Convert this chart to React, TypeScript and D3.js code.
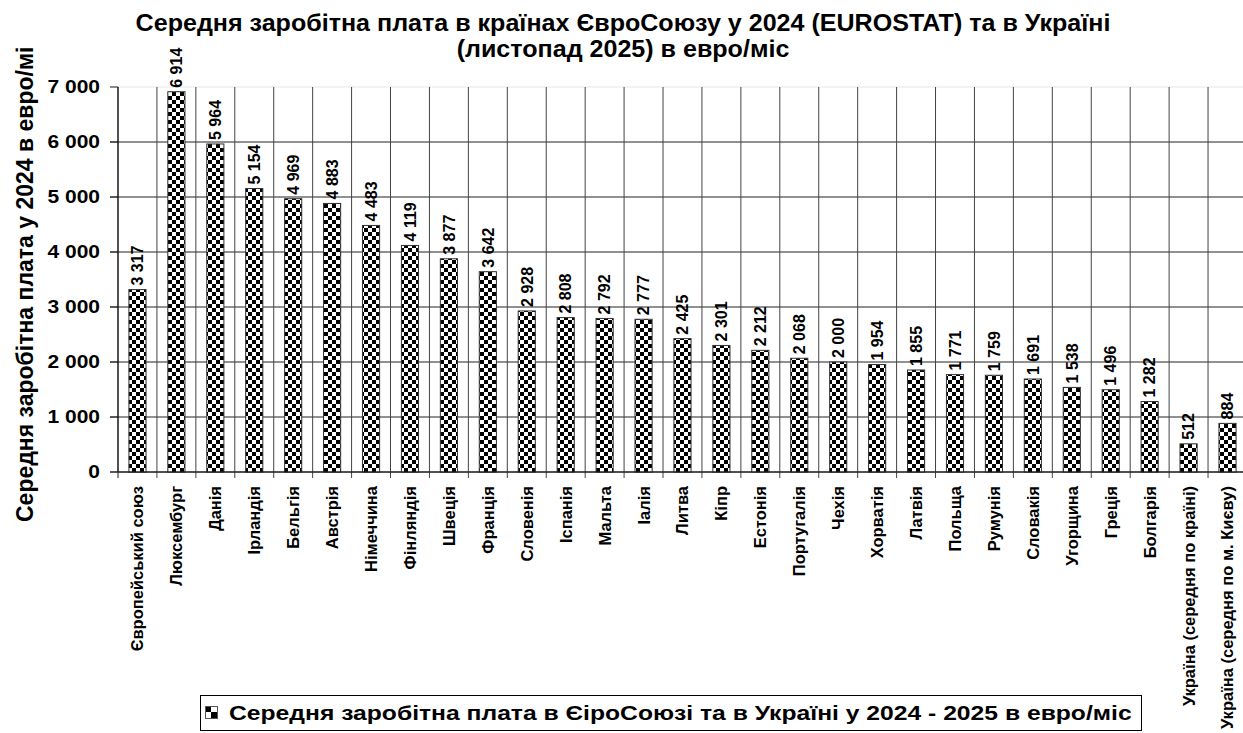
import React from "react";
import * as d3 from "d3";

const categories: string[] = [
  "Європейський союз", "Люксембург", "Данія", "Ірландія", "Бельгія", "Австрія",
  "Німеччина", "Фінляндія", "Швеція", "Франція", "Словенія", "Іспанія", "Мальта",
  "Іалія", "Литва", "Кіпр", "Естонія", "Португалія", "Чехія", "Хорватія", "Латвія",
  "Польща", "Румунія", "Словакія", "Угорщина", "Греція", "Болгарія",
  "Україна (середня по країні)", "Україна (середня по м. Києву)",
];
const values: number[] = [
  3317, 6914, 5964, 5154, 4969, 4883, 4483, 4119, 3877, 3642, 2928, 2808, 2792,
  2777, 2425, 2301, 2212, 2068, 2000, 1954, 1855, 1771, 1759, 1691, 1538, 1496,
  1282, 512, 884,
];
const yTicks: number[] = [0, 1000, 2000, 3000, 4000, 5000, 6000, 7000];
const titleLines: string[] = [
  "Середня заробітна плата в країнах ЄвроСоюзу у 2024 (EUROSTAT) та в Україні",
  "(листопад 2025) в евро/міс",
];
const yTitle = "Середня заробітна плата у 2024 в евро/мі";
const legendLabel = "Середня заробітна плата в ЄіроСоюзі та в Україні у 2024 - 2025 в евро/міс";

const W = 1243;
const H = 733;
const FONT = "Arial, 'Liberation Sans', sans-serif";

const fmt = (v: number) => d3.format(",")(v).replace(/,/g, " ");

export default function App() {
  const left = 118;
  const step = 38.93;
  const x = d3
    .scaleBand<string>()
    .domain(categories)
    .range([left, left + step * categories.length])
    .paddingInner(0.56)
    .paddingOuter(0.28);
  const y = d3.scaleLinear().domain([0, 7000]).range([472, 87]);
  const bounds = categories.map((_, i) => left + i * step);

  return (
    <svg
      width={W}
      height={H}
      style={{ position: "absolute", left: 0, top: 0, background: "#fff" }}
      fontFamily={FONT}
    >
      <defs>
        <pattern id="checker" width={8} height={8} patternUnits="userSpaceOnUse">
          <rect width={8} height={8} fill="#fff" />
          <rect x={0} y={0} width={4} height={4} fill="#000" />
          <rect x={4} y={4} width={4} height={4} fill="#000" />
        </pattern>
        <pattern id="checkerL" x={205} y={706} width={12} height={12} patternUnits="userSpaceOnUse">
          <rect width={12} height={12} fill="#fff" />
          <rect x={0} y={0} width={6} height={6} fill="#000" />
          <rect x={6} y={6} width={6} height={6} fill="#000" />
        </pattern>
      </defs>

      {/* title */}
      {titleLines.map((t, i) => (
        <text
          key={i}
          transform={`translate(623,${31 + i * 26}) scale(1.045,1)`}
          textAnchor="middle"
          fontSize={24}
          fontWeight="bold"
        >
          {t}
        </text>
      ))}

      {/* horizontal gridlines */}
      {yTicks.map((t) => (
        <g key={t}>
          <line
            x1={110}
            x2={W}
            y1={y(t)}
            y2={y(t)}
            stroke={t === 7000 ? "#e6e6e6" : "#222"}
            strokeWidth={1}
          />
          <line x1={110} x2={118} y1={y(t)} y2={y(t)} stroke="#222" />
          <text
            transform={`translate(100,${y(t)}) scale(1.2,1)`}
            dy="0.36em"
            textAnchor="end"
            fontSize={17.5}
            fontWeight="bold"
          >
            {fmt(t)}
          </text>
        </g>
      ))}

      {/* vertical gridlines */}
      {bounds.map((bx, i) => (
        <line
          key={i}
          x1={bx}
          x2={bx}
          y1={y(7000)}
          y2={478}
          stroke={i === 0 ? "#222" : "#444"}
          strokeWidth={1}
        />
      ))}

      {/* bars */}
      {categories.map((c, i) => {
        const bx = x(c)!;
        const bw = x.bandwidth();
        const v = values[i];
        return (
          <g key={c}>
            <rect
              x={bx}
              y={y(v)}
              width={bw}
              height={y(0) - y(v)}
              fill="url(#checker)"
              stroke="#333"
              strokeWidth={1}
            />
            <text
              transform={`translate(${bx + bw / 2},${y(v) - 4}) rotate(-90)`}
              dy="0.36em"
              textAnchor="start"
              fontSize={16}
              fontWeight="bold"
            >
              {fmt(v)}
            </text>
            <text
              transform={`translate(${bx + bw / 2},486) rotate(-90)`}
              dy="0.36em"
              textAnchor="end"
              fontSize={16.5}
              fontWeight="bold"
            >
              {c}
            </text>
          </g>
        );
      })}

      {/* axis lines */}
      <line x1={118} x2={W} y1={y(0)} y2={y(0)} stroke="#111" />
      <line x1={118} x2={118} y1={y(7000)} y2={y(0)} stroke="#111" />

      {/* y title */}
      <text
        transform={`translate(25,522) rotate(-90)`}
        dy="0.36em"
        textAnchor="start"
        fontSize={23}
        fontWeight="bold"
      >
        {yTitle}
      </text>

      {/* legend */}
      <rect x={200.5} y={695.5} width={941} height={35} fill="#fff" stroke="#000" />
      <rect x={205.5} y={706.5} width={12} height={12} fill="url(#checkerL)" stroke="#555" />
      <text
        transform={`translate(229,720) scale(1.175,1)`}
        fontSize={21}
        fontWeight="bold"
      >
        {legendLabel}
      </text>
    </svg>
  );
}
